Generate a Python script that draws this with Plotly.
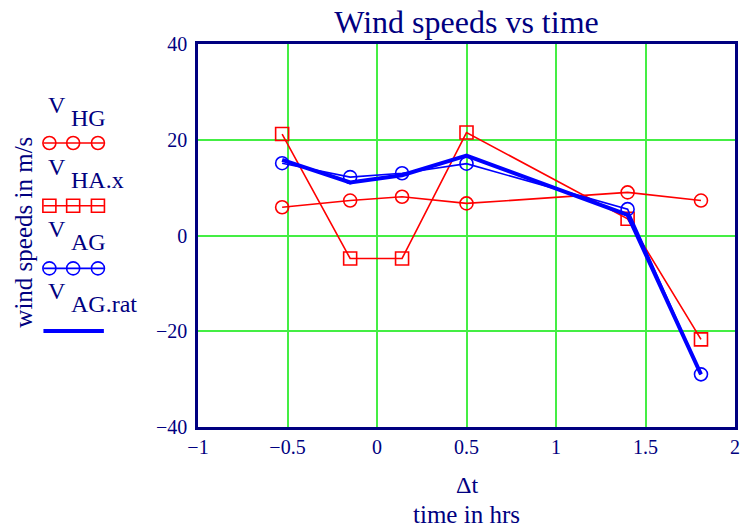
import plotly.graph_objects as go

# ---- data ----
t = [-0.53, -0.15, 0.14, 0.50, 1.40, 1.81]
v_hg = [5.9, 7.3, 8.1, 6.7, 9.0, 7.3]
v_ha_x = [21.2, -4.8, -4.8, 21.5, 3.5, -21.7]
v_ag = [15.1, 12.2, 13.0, 15.0, 5.5, -29.0]
v_ag_rat = [15.8, 11.1, 12.6, 16.7, 4.3, -29.0]

x_ticks = [-1, -0.5, 0, 0.5, 1, 1.5, 2]
y_ticks = [-40, -20, 0, 20, 40]

legend_names = [("V", "HG"), ("V", "HA.x"), ("V", "AG"), ("V", "AG.rat")]

NAVY = "#000080"
RED = "#ff0000"
BLUE = "#0000ff"
GREEN = "#44ee44"
FONT = "Liberation Serif"

W, H = 743, 527
ML, MR, MT, MB = 198, 3, 44, 100
PW, PH = W - ML - MR, H - MT - MB


def px(x):
    return (x - ML) / PW


def py(y):
    return (H - MB - y) / PH


fig = go.Figure()

fig.add_trace(go.Scatter(x=t, y=v_hg, mode="lines+markers",
                         line=dict(color=RED, width=1.6),
                         marker=dict(symbol="circle-open", size=13, color=RED, line=dict(width=1.6))))
fig.add_trace(go.Scatter(x=t, y=v_ha_x, mode="lines+markers",
                         line=dict(color=RED, width=1.6),
                         marker=dict(symbol="square-open", size=13, color=RED, line=dict(width=1.6))))
fig.add_trace(go.Scatter(x=t, y=v_ag, mode="lines+markers",
                         line=dict(color=BLUE, width=1.6),
                         marker=dict(symbol="circle-open", size=13, color=BLUE, line=dict(width=1.6))))
fig.add_trace(go.Scatter(x=t, y=v_ag_rat, mode="lines",
                         line=dict(color=BLUE, width=4)))

# ---- hand-built legend (label above sample, as in the original) ----
legend_styles = [
    (RED, "circle", 1.6),
    (RED, "rect", 1.6),
    (BLUE, "circle", 1.6),
    (BLUE, None, 4),
]
shapes = []
annotations = []
for i, ((v, sub), (col, sym, lw)) in enumerate(zip(legend_names, legend_styles)):
    ys = 143 + 62.7 * i
    shapes.append(dict(type="line", xref="paper", yref="paper",
                       x0=px(42), x1=px(103), y0=py(ys), y1=py(ys),
                       line=dict(color=col, width=lw)))
    if sym:
        for mx in (48, 72, 97):
            shapes.append(dict(type=sym, xref="paper", yref="paper",
                               xsizemode="pixel", ysizemode="pixel",
                               xanchor=px(mx), yanchor=py(ys),
                               x0=-6.5, x1=6.5, y0=-6.5, y1=6.5,
                               line=dict(color=col, width=1.6), fillcolor="rgba(0,0,0,0)"))
    annotations.append(dict(text=v, x=px(45), y=py(105 + 62 * i), xref="paper", yref="paper",
                            xanchor="left", yanchor="middle", showarrow=False,
                            font=dict(family=FONT, size=24, color=NAVY)))
    annotations.append(dict(text=sub, x=px(68), y=py(118 + 62 * i), xref="paper", yref="paper",
                            xanchor="left", yanchor="middle", showarrow=False,
                            font=dict(family=FONT, size=24, color=NAVY)))

annotations.append(dict(text="wind speeds in m/s", x=px(21), y=py(232), xref="paper", yref="paper",
                        textangle=-90, showarrow=False, xanchor="center", yanchor="middle",
                        font=dict(family=FONT, size=25, color=NAVY)))
annotations.append(dict(text="Δt", x=px(469), y=py(485), xref="paper", yref="paper",
                        showarrow=False, xanchor="center", yanchor="middle",
                        font=dict(family=FONT, size=24, color=NAVY)))
annotations.append(dict(text="time in hrs", x=px(469), y=py(514), xref="paper", yref="paper",
                        showarrow=False, xanchor="center", yanchor="middle",
                        font=dict(family=FONT, size=25, color=NAVY)))

fig.update_layout(
    width=W, height=H,
    margin=dict(l=ML, r=MR, t=MT, b=MB),
    paper_bgcolor="white", plot_bgcolor="white",
    showlegend=False,
    title=dict(text="Wind speeds vs time", x=px(469), xanchor="center", xref="paper",
               y=1 - 22 / H, yanchor="middle",
               font=dict(family=FONT, size=32, color=NAVY)),
    xaxis=dict(range=[-1, 2], tickvals=x_ticks,
               showgrid=True, gridcolor=GREEN, gridwidth=1.5, zeroline=False,
               showline=True, linecolor=NAVY, linewidth=2.5, mirror=True, ticks="",
               tickfont=dict(family=FONT, size=20, color=NAVY)),
    yaxis=dict(range=[-40, 40], tickvals=y_ticks,
               showgrid=True, gridcolor=GREEN, gridwidth=1.5, zeroline=False,
               showline=True, linecolor=NAVY, linewidth=2.5, mirror=True, ticks="",
               tickfont=dict(family=FONT, size=20, color=NAVY), ticklabelstandoff=4),
    shapes=shapes,
    annotations=annotations,
)

fig.write_html("out.html")
